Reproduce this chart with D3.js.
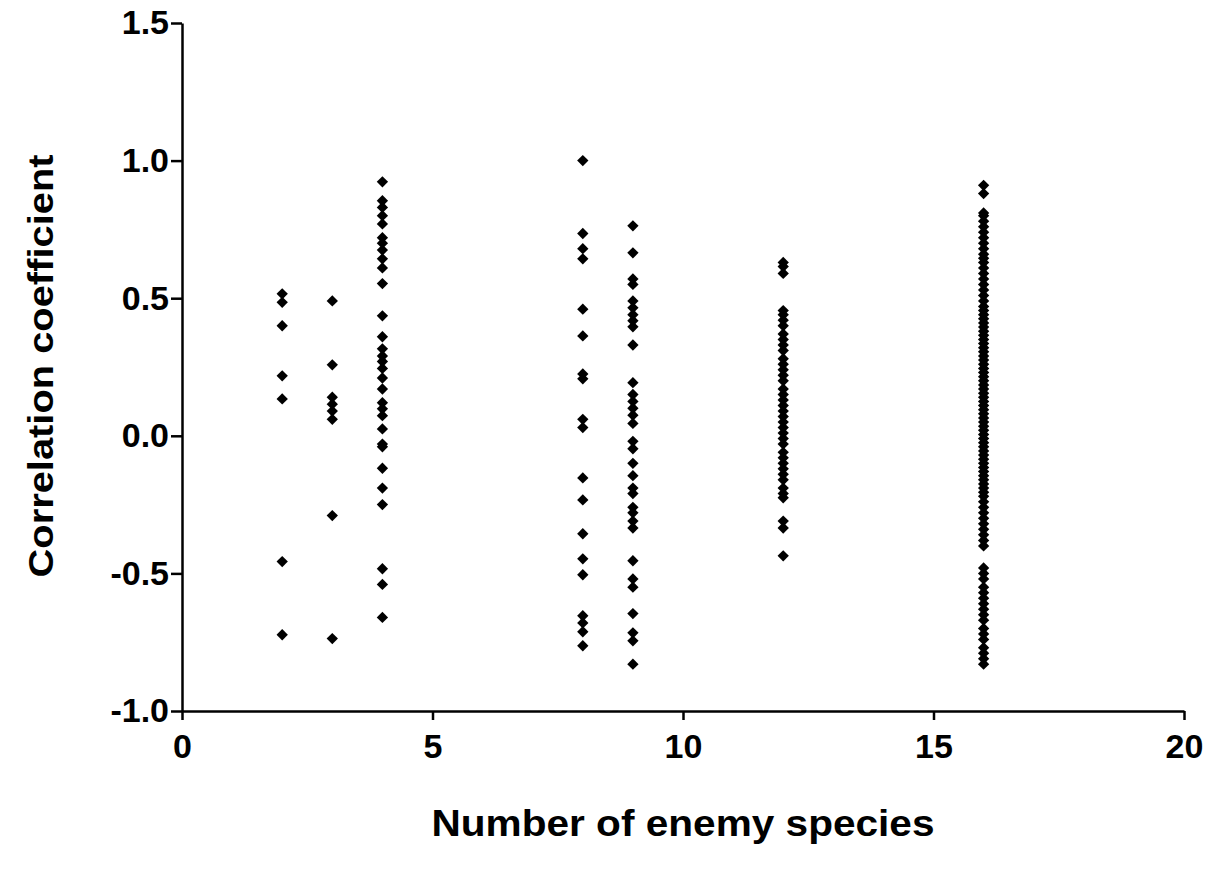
<!DOCTYPE html>
<html>
<head>
<meta charset="utf-8">
<script src="https://cdn.jsdelivr.net/npm/d3@7"></script>
<style>
  body { margin: 0; background: #fff; }
  .chart text { font-family: Arial, "Liberation Sans", sans-serif; font-weight: bold; fill: #000; }
</style>
</head>
<body>
<div class="chart"></div>
<script>
var margin = ({top: 23, right: 26, bottom: 160, left: 182})
var width = 1210, height = 871;

// number of enemy species for each column
var enemyCounts = [2, 3, 4, 8, 9, 12, 16]

// correlation coefficients read per column
var r2 = [0.516, 0.485, 0.40, 0.218, 0.134, -0.457, -0.723]
var r3 = [0.49, 0.258, 0.14, 0.115, 0.09, 0.06, -0.29, -0.737]
var r4 = [0.923, 0.854, 0.83, 0.80, 0.77, 0.72, 0.70, 0.675, 0.643, 0.61, 0.553, 0.436,
  0.36, 0.316, 0.29, 0.27, 0.245, 0.21, 0.17, 0.12, 0.098, 0.073, 0.025, -0.03, -0.04,
  -0.118, -0.19, -0.25, -0.483, -0.54, -0.66]
var r8 = [1.0, 0.735, 0.68, 0.643, 0.46, 0.363, 0.225, 0.207, 0.06, 0.03, -0.153,
  -0.233, -0.356, -0.447, -0.505, -0.654, -0.68, -0.712, -0.763]
var r9 = [0.763, 0.665, 0.57, 0.55, 0.49, 0.465, 0.44, 0.418, 0.396, 0.33, 0.193, 0.15,
  0.125, 0.10, 0.075, 0.045, -0.02, -0.047, -0.10, -0.145, -0.19, -0.21, -0.26, -0.28,
  -0.31, -0.335, -0.454, -0.52, -0.55, -0.646, -0.716, -0.745, -0.83]
var r12 = [0.63, 0.615, 0.59, 0.455, 0.44, 0.42, 0.40, 0.37, 0.35, 0.33, 0.31, 0.28,
  0.26, 0.24, 0.22, 0.20, 0.17, 0.15, 0.13, 0.11, 0.09, 0.07, 0.05, 0.03, 0.01, -0.01,
  -0.03, -0.06, -0.08, -0.10, -0.12, -0.14, -0.16, -0.19, -0.21, -0.225, -0.31, -0.335, -0.436]
var r16 = [0.91, 0.88, 0.81, 0.80, 0.78, 0.76, 0.74, 0.72, 0.70, 0.68, 0.66, 0.645, 0.63,
  0.61, 0.59, 0.57, 0.55, 0.53, 0.51, 0.49, 0.47, 0.455, 0.44, 0.425, 0.41, 0.395, 0.38,
  0.365, 0.35, 0.335, 0.32, 0.305, 0.29, 0.275, 0.26, 0.245, 0.23, 0.215, 0.20, 0.185,
  0.17, 0.155, 0.14, 0.125, 0.11, 0.095, 0.08, 0.065, 0.05, 0.035, 0.02, 0.005, -0.01,
  -0.025, -0.04, -0.055, -0.07, -0.085, -0.10, -0.115, -0.13, -0.145, -0.16, -0.175,
  -0.19, -0.205, -0.22, -0.24, -0.26, -0.28, -0.30, -0.32, -0.34, -0.36, -0.38, -0.40,
  -0.48, -0.50, -0.52, -0.55, -0.57, -0.59, -0.61, -0.63, -0.65, -0.67, -0.70, -0.72,
  -0.74, -0.77, -0.79, -0.81, -0.83]

var columns = [r2, r3, r4, r8, r9, r12, r16]

var xTicks = [0, 5, 10, 15, 20]
var yTicks = [-1.0, -0.5, 0.0, 0.5, 1.0, 1.5]
var yTickLabels = ["-1.0", "-0.5", "0.0", "0.5", "1.0", "1.5"]

var points = []
columns.forEach(function(vals, i) {
  vals.forEach(function(v) { points.push({n: enemyCounts[i], r: v}) })
})

var svg = d3.select(".chart")
  .append("svg")
    .attr("width", width)
    .attr("height", height)

var g = svg.append("g")
  .attr("transform", `translate(${margin.left},${margin.top})`)

var innerW = width - margin.left - margin.right
var innerH = height - margin.top - margin.bottom

var x = d3.scaleLinear().domain([0, 20]).range([0, innerW])
var y = d3.scaleLinear().domain([-1.0, 1.5]).range([innerH, 0])

// X axis
var xAxis = g.append("g")
  .attr("transform", `translate(0,${innerH})`)
  .call(d3.axisBottom(x).tickValues(xTicks).tickFormat(d3.format("d")).tickSize(9).tickSizeOuter(0))
xAxis.select(".domain").attr("stroke-width", 2.5)
xAxis.selectAll(".tick line").attr("stroke-width", 2.5)
xAxis.selectAll("text")
  .attr("y", 23)
  .attr("dy", "0.71em")
  .style("font-size", "34px")

// Y axis (hyphen minus like the original)
var yAxis = g.append("g")
  .call(d3.axisLeft(y).tickValues(yTicks).tickFormat((d, i) => yTickLabels[i]).tickSize(11).tickSizeOuter(0))
yAxis.select(".domain").attr("stroke-width", 2.5)
yAxis.selectAll(".tick line").attr("stroke-width", 2.5)
yAxis.selectAll("text")
  .attr("x", -13)
  .style("font-size", "34px")

// markers (Excel style diamonds)
var diamond = d3.symbol().type(d3.symbolSquare).size(64)
g.selectAll("path.pt")
  .data(points)
  .join("path")
    .attr("class", "pt")
    .attr("d", diamond)
    .attr("transform", d => `translate(${x(d.n)},${y(d.r)}) rotate(45)`)
    .attr("fill", "#000")

// axis titles
svg.append("text")
  .attr("x", 683)
  .attr("y", 836)
  .attr("text-anchor", "middle")
  .attr("textLength", 503)
  .attr("lengthAdjust", "spacingAndGlyphs")
  .style("font-size", "37px")
  .text("Number of enemy species")

svg.append("text")
  .attr("transform", "translate(53,366) rotate(-90)")
  .attr("text-anchor", "middle")
  .attr("textLength", 423)
  .attr("lengthAdjust", "spacingAndGlyphs")
  .style("font-size", "35px")
  .text("Correlation coefficient")
</script>
</body>
</html>
